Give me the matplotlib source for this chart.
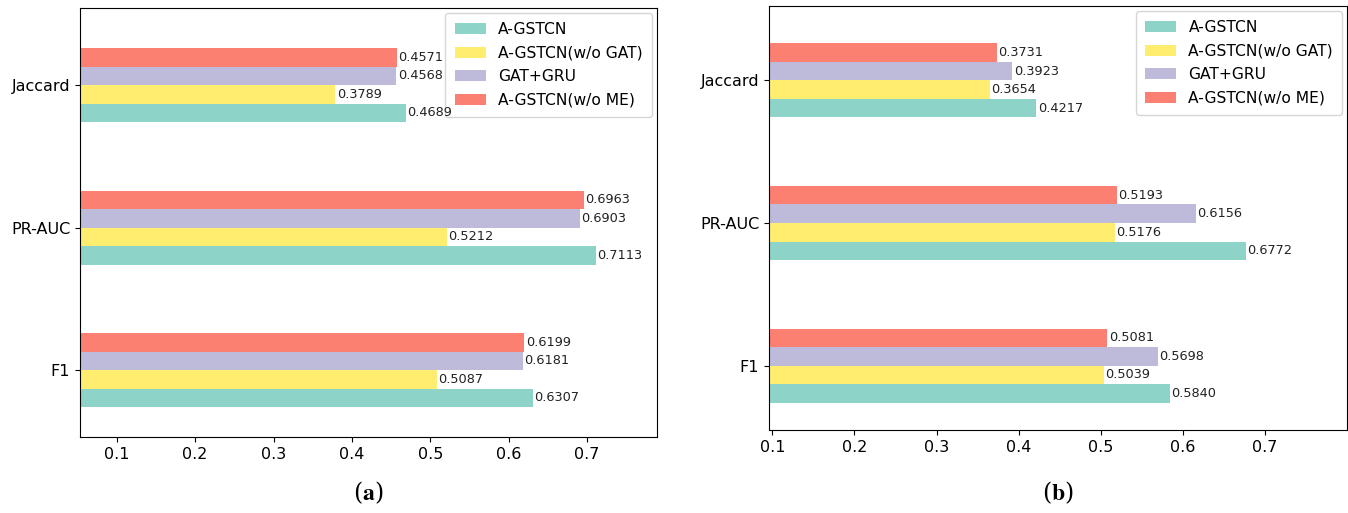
import numpy as np
import matplotlib
matplotlib.use('Agg')
import matplotlib.pyplot as plt

plt.rcParams['mathtext.fontset'] = 'stix'

# 数据
metrics = ['F1', 'PR-AUC', 'Jaccard']
models = ['A-GSTCN', 'A-GSTCN(w/o GAT)', 'GAT+GRU', 'A-GSTCN(w/o ME)']
colors = ['#8dd3c7', '#ffed6f', '#bebada', '#fb8072']

# (a) 顺序: F1, PR-AUC, Jaccard
a_gstcn_a = [0.6307, 0.7113, 0.4689]
wo_gat_a = [0.5087, 0.5212, 0.3789]
gat_gru_a = [0.6181, 0.6903, 0.4568]
wo_me_a = [0.6199, 0.6963, 0.4571]

# (b)
a_gstcn_b = [0.5840, 0.6772, 0.4217]
wo_gat_b = [0.5039, 0.5176, 0.3654]
gat_gru_b = [0.5698, 0.6156, 0.3923]
wo_me_b = [0.5081, 0.5193, 0.3731]

fig = plt.figure(figsize=(13.48, 5.13), dpi=100)
ax1 = fig.add_axes([0.0593, 0.148, 0.428, 0.836])
ax2 = fig.add_axes([0.5705, 0.162, 0.4288, 0.826])

h = 0.13
y = np.arange(len(metrics))


def draw(ax, series, xlim, ylim, tag):
    for i, vals in enumerate(series):
        bars = ax.barh(y + (i - 1.5) * h, vals, height=h, color=colors[i], label=models[i])
        ax.bar_label(bars, labels=['%.4f' % v for v in vals], padding=1, fontsize=9.3,
                     color='#222222', zorder=6)
    ax.set_yticks(y)
    ax.set_yticklabels(metrics, fontsize=11.5)
    ax.set_xticks([0.1, 0.2, 0.3, 0.4, 0.5, 0.6, 0.7])
    ax.tick_params(axis='x', labelsize=11.5)
    ax.set_xlim(*xlim)
    ax.set_ylim(*ylim)
    ax.legend(loc='upper right', fontsize=11.2, handlelength=2.0, borderpad=0.6,
              labelspacing=0.55, borderaxespad=0.3)
    pos = ax.get_position()
    fig.text(pos.x0 + pos.width / 2, 0.04, r'($\mathbf{' + tag + '}$)', ha='center',
             va='center', fontsize=17, family='serif')


draw(ax1, [a_gstcn_a, wo_gat_a, gat_gru_a, wo_me_a], (0.053, 0.789), (-0.47, 2.54), 'a')
draw(ax2, [a_gstcn_b, wo_gat_b, gat_gru_b, wo_me_b], (0.096, 0.80), (-0.45, 2.52), 'b')

fig.savefig('out.png', dpi=100)
